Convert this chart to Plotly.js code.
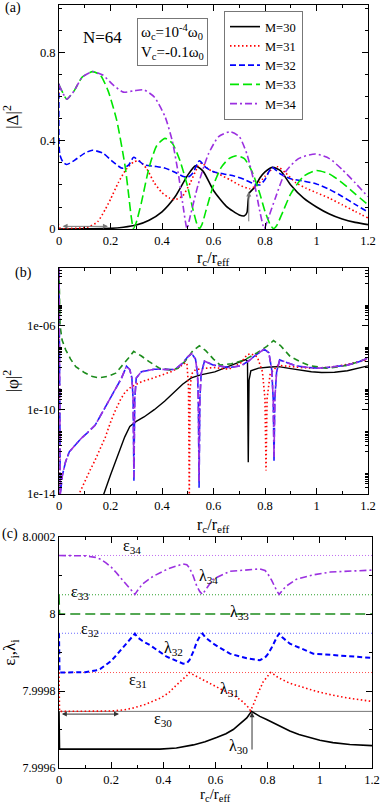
<!DOCTYPE html>
<html>
<head>
<meta charset="utf-8">
<script src="https://cdn.plot.ly/plotly-3.0.1.min.js"></script>
<style>
  html, body { margin: 0; padding: 0; background: #fff; }
  #chart { width: 382px; height: 806px; }
</style>
</head>
<body>
<div id="chart"></div>
<script>
// ---- panel (a): |Delta|^2 against rc/reff ----
const xA30 = [0, 0.1, 0.2, 0.25, 0.3, 0.35, 0.4, 0.45, 0.5, 0.53, 0.56, 0.6, 0.65, 0.7, 0.72, 0.73, 0.735, 0.74, 0.76, 0.78, 0.8, 0.83, 0.86, 0.9, 0.95, 1.0, 1.05, 1.1, 1.15, 1.2]
const yA30 = [0, 0.001, 0.003, 0.008, 0.018, 0.04, 0.078, 0.145, 0.245, 0.287, 0.262, 0.175, 0.103, 0.064, 0.06, 0.075, 0.135, 0.165, 0.19, 0.232, 0.26, 0.28, 0.265, 0.2, 0.14, 0.1, 0.068, 0.045, 0.03, 0.02]

const xA31 = [0, 0.003, 0.05, 0.1, 0.12, 0.15, 0.18, 0.2, 0.23, 0.26, 0.29, 0.31, 0.34, 0.37, 0.4, 0.43, 0.45, 0.48, 0.51, 0.54, 0.555, 0.58, 0.62, 0.665, 0.7, 0.74, 0.77, 0.8, 0.83, 0.85, 0.88, 0.92, 0.96, 1.0, 1.05, 1.1, 1.15, 1.2]
const yA31 = [0.66, 0.005, 0.003, 0.006, 0.012, 0.033, 0.09, 0.135, 0.21, 0.27, 0.305, 0.31, 0.275, 0.21, 0.165, 0.14, 0.133, 0.15, 0.21, 0.285, 0.3, 0.272, 0.25, 0.223, 0.2, 0.183, 0.2, 0.24, 0.275, 0.283, 0.255, 0.21, 0.185, 0.165, 0.14, 0.11, 0.08, 0.05]

const xA32 = [0, 0.003, 0.015, 0.03, 0.06, 0.1, 0.13, 0.17, 0.21, 0.245, 0.27, 0.29, 0.31, 0.33, 0.37, 0.41, 0.45, 0.48, 0.5, 0.52, 0.545, 0.57, 0.6, 0.64, 0.68, 0.72, 0.76, 0.78, 0.8, 0.827, 0.86, 0.9, 0.95, 1.0, 1.05, 1.1, 1.15, 1.2]
const yA32 = [0.66, 0.34, 0.305, 0.293, 0.312, 0.345, 0.358, 0.345, 0.305, 0.276, 0.29, 0.326, 0.31, 0.292, 0.285, 0.277, 0.258, 0.24, 0.235, 0.255, 0.31, 0.28, 0.26, 0.25, 0.241, 0.225, 0.204, 0.2, 0.225, 0.28, 0.25, 0.228, 0.218, 0.205, 0.18, 0.148, 0.112, 0.077]

const xA33 = [0, 0.01, 0.03, 0.06, 0.09, 0.13, 0.16, 0.19, 0.224, 0.257, 0.27, 0.28, 0.289, 0.3, 0.32, 0.35, 0.38, 0.412, 0.44, 0.47, 0.5, 0.52, 0.535, 0.545, 0.555, 0.57, 0.6, 0.63, 0.66, 0.69, 0.72, 0.75, 0.78, 0.8, 0.82, 0.833, 0.845, 0.87, 0.9, 0.95, 1.0, 1.05, 1.1, 1.15, 1.2]
const yA33 = [0.655, 0.63, 0.59, 0.63, 0.69, 0.715, 0.7, 0.63, 0.495, 0.283, 0.16, 0.06, 0.003, 0.03, 0.12, 0.28, 0.38, 0.412, 0.39, 0.31, 0.19, 0.09, 0.025, 0.002, 0.02, 0.08, 0.2, 0.28, 0.32, 0.333, 0.32, 0.26, 0.16, 0.08, 0.02, 0.002, 0.015, 0.08, 0.16, 0.24, 0.266, 0.25, 0.21, 0.16, 0.11]

const xA34 = [0, 0.01, 0.03, 0.06, 0.09, 0.13, 0.17, 0.21, 0.25, 0.29, 0.33, 0.37, 0.412, 0.44, 0.463, 0.48, 0.497, 0.51, 0.54, 0.58, 0.62, 0.665, 0.7, 0.73, 0.76, 0.78, 0.797, 0.81, 0.84, 0.88, 0.93, 0.996, 1.05, 1.1, 1.15, 1.2]
const yA34 = [0.655, 0.63, 0.59, 0.63, 0.69, 0.715, 0.7, 0.655, 0.622, 0.628, 0.632, 0.6, 0.51, 0.4, 0.254, 0.12, 0.002, 0.06, 0.2, 0.34, 0.42, 0.442, 0.42, 0.34, 0.2, 0.08, 0.002, 0.04, 0.14, 0.26, 0.32, 0.341, 0.32, 0.27, 0.21, 0.147]

// ---- panel (b): |phi|^2 (log scale) ----
const xB30 = [0.15, 0.174, 0.2, 0.23, 0.255, 0.275, 0.3, 0.33, 0.37, 0.41, 0.45, 0.48, 0.514, 0.55, 0.605, 0.66, 0.7, 0.725, 0.732, 0.735, 0.738, 0.745, 0.775, 0.82, 0.853, 0.9, 0.93, 0.98, 1.02, 1.07, 1.12, 1.16, 1.2]
const yB30 = [1e-15, 1e-14, 8e-14, 8e-13, 5e-12, 1.6e-11, 2.8e-11, 4.5e-11, 1e-10, 2.5e-10, 6.9e-10, 1.6e-9, 3.2e-9, 4.5e-9, 6.2e-9, 1.1e-8, 1.8e-8, 2.4e-8, 2e-8, 3.2e-13, 2.5e-9, 7e-9, 9.3e-9, 1.05e-8, 1.1e-8, 8.9e-9, 7.8e-9, 6.3e-9, 5.8e-9, 6e-9, 7e-9, 8.9e-9, 1.2e-8]

const xB31 = [0, 0.003, 0.078, 0.1, 0.12, 0.14, 0.16, 0.18, 0.2, 0.22, 0.24, 0.257, 0.28, 0.32, 0.36, 0.4, 0.44, 0.47, 0.49, 0.497, 0.503, 0.506, 0.509, 0.515, 0.53, 0.56, 0.6, 0.66, 0.705, 0.73, 0.745, 0.77, 0.79, 0.8, 0.804, 0.808, 0.82, 0.85, 0.89, 0.94, 0.98, 1.04, 1.1, 1.15, 1.2]
const yB31 = [5e-4, 1e-16, 1e-14, 4e-14, 1.3e-13, 4e-13, 1.3e-12, 5e-12, 2.5e-11, 1e-10, 3.2e-10, 6.9e-10, 1.2e-9, 2.1e-9, 3e-9, 4.3e-9, 6.6e-9, 1.1e-8, 1.66e-8, 1.6e-8, 1e-9, 6e-15, 1e-9, 5e-9, 7.9e-9, 8.9e-9, 1e-8, 8.3e-9, 1.6e-8, 4e-8, 4.5e-8, 3.2e-8, 6.3e-9, 3.2e-10, 1.3e-13, 3.2e-10, 5e-9, 1.26e-8, 1.1e-8, 1e-8, 9.3e-9, 1e-8, 1.26e-8, 1.66e-8, 2.3e-8]

const xB32 = [0, 0.002, 0.005, 0.013, 0.025, 0.04, 0.06, 0.085, 0.11, 0.14, 0.165, 0.19, 0.215, 0.242, 0.262, 0.275, 0.283, 0.288, 0.291, 0.294, 0.3, 0.32, 0.37, 0.41, 0.45, 0.48, 0.5, 0.515, 0.53, 0.538, 0.541, 0.544, 0.547, 0.552, 0.565, 0.6, 0.66, 0.707, 0.74, 0.765, 0.797, 0.815, 0.826, 0.832, 0.835, 0.838, 0.845, 0.857, 0.89, 0.92, 0.97, 1.01, 1.06, 1.12, 1.16, 1.2]
const yB32 = [5e-4, 1e-8, 1e-14, 7.6e-14, 3.2e-13, 1e-12, 2e-12, 4.2e-12, 8e-12, 1.8e-11, 6.3e-11, 2.3e-10, 8e-10, 3e-9, 1.15e-8, 8e-9, 3.2e-9, 3e-10, 4e-14, 3e-10, 3.2e-9, 6.3e-9, 8.3e-9, 8e-9, 8e-9, 1.6e-8, 3.2e-8, 4.6e-8, 2.5e-8, 5e-9, 3e-10, 2e-14, 3e-10, 5e-9, 2e-8, 1.3e-8, 1e-8, 1.2e-8, 2.2e-8, 4e-8, 7.4e-8, 5e-8, 8e-9, 3e-10, 3.2e-13, 3e-10, 6e-9, 2.3e-8, 1.6e-8, 1.2e-8, 1e-8, 9.3e-9, 1.05e-8, 1.3e-8, 1.8e-8, 2.75e-8]

const xB33 = [0, 0.004, 0.012, 0.026, 0.045, 0.065, 0.1, 0.13, 0.155, 0.19, 0.22, 0.25, 0.27, 0.29, 0.32, 0.35, 0.39, 0.43, 0.46, 0.49, 0.52, 0.545, 0.57, 0.6, 0.626, 0.67, 0.72, 0.77, 0.807, 0.833, 0.86, 0.898, 0.94, 0.976, 1.04, 1.08, 1.12, 1.16, 1.2]
const yB33 = [5e-4, 1e-6, 2e-7, 6.9e-8, 2.5e-8, 1.1e-8, 5.6e-9, 3.7e-9, 3.2e-9, 3.8e-9, 5.4e-9, 1.4e-8, 2.8e-8, 5.8e-8, 3.5e-8, 1.9e-8, 9.3e-9, 7.6e-9, 8.9e-9, 2e-8, 6.3e-8, 1.07e-7, 6.3e-8, 2.5e-8, 1.3e-8, 1.5e-8, 2.3e-8, 5e-8, 1e-7, 1.9e-7, 1.1e-7, 3.3e-8, 1.8e-8, 1.2e-8, 9.3e-9, 1.05e-8, 1.3e-8, 1.8e-8, 2.75e-8]

const xB34 = [0, 0.002, 0.005, 0.013, 0.025, 0.04, 0.06, 0.085, 0.11, 0.14, 0.165, 0.19, 0.215, 0.242, 0.262, 0.275, 0.283, 0.288, 0.291, 0.294, 0.3, 0.32, 0.37, 0.41, 0.45, 0.48, 0.5, 0.515, 0.53, 0.538, 0.541, 0.544, 0.547, 0.552, 0.565, 0.6, 0.66, 0.707, 0.74, 0.765, 0.797, 0.815, 0.826, 0.832, 0.835, 0.838, 0.845, 0.857, 0.89, 0.92, 0.97, 1.01, 1.06, 1.12, 1.16, 1.2]
const yB34 = [5e-4, 1e-8, 1e-14, 7.6e-14, 3.2e-13, 1e-12, 2e-12, 4.2e-12, 8e-12, 1.8e-11, 6.3e-11, 2.3e-10, 8e-10, 3e-9, 1.15e-8, 8e-9, 3.2e-9, 3e-10, 6e-14, 3e-10, 3.2e-9, 6.3e-9, 8.3e-9, 8e-9, 8e-9, 1.6e-8, 3.2e-8, 4.6e-8, 2.5e-8, 5e-9, 3e-10, 4e-14, 3e-10, 5e-9, 2e-8, 1.3e-8, 1e-8, 1.2e-8, 2.2e-8, 4e-8, 7.4e-8, 5e-8, 8e-9, 3e-10, 5e-13, 3e-10, 6e-9, 2.3e-8, 1.6e-8, 1.2e-8, 1e-8, 9.3e-9, 1.05e-8, 1.3e-8, 1.8e-8, 2.75e-8]

// ---- panel (c): eigenvalues lambda_M and levels epsilon_M ----
const epsNames = ['ε<sub>30</sub>', 'ε<sub>31</sub>', 'ε<sub>32</sub>', 'ε<sub>33</sub>', 'ε<sub>34</sub>']
const epsValues = [7.999747, 7.999848, 7.99995, 8.00005, 8.000152]

const xC30 = [0, 0.002, 0.387, 0.45, 0.515, 0.56, 0.604, 0.64, 0.668, 0.7, 0.72, 0.738, 0.75, 0.77, 0.796, 0.82, 0.85, 0.885, 0.92, 0.96, 1.0, 1.05, 1.115, 1.2]
const yC30 = [7.999747, 7.999649, 7.999649, 7.999652, 7.99966, 7.999668, 7.999679, 7.999689, 7.9997, 7.999717, 7.99973, 7.999747, 7.999742, 7.999734, 7.999726, 7.999718, 7.999707, 7.999696, 7.999687, 7.999679, 7.999672, 7.999666, 7.999661, 7.999658]

const xC31 = [0, 0.002, 0.2, 0.25, 0.285, 0.33, 0.387, 0.42, 0.451, 0.475, 0.49, 0.499, 0.51, 0.54, 0.579, 0.62, 0.668, 0.705, 0.725, 0.734, 0.745, 0.76, 0.783, 0.8, 0.811, 0.82, 0.84, 0.885, 0.94, 0.987, 1.05, 1.115, 1.2]
const yC31 = [7.999848, 7.999747, 7.999748, 7.999751, 7.999756, 7.999765, 7.999781, 7.999795, 7.999816, 7.99983, 7.99984, 7.999848, 7.999844, 7.999835, 7.99982, 7.999805, 7.99979, 7.999772, 7.999758, 7.999749, 7.999764, 7.99979, 7.999824, 7.99984, 7.999848, 7.999845, 7.999835, 7.99982, 7.999808, 7.999799, 7.999789, 7.999781, 7.999773]

const xC32 = [0, 0.002, 0.1, 0.14, 0.16, 0.18, 0.2, 0.22, 0.24, 0.26, 0.28, 0.291, 0.3, 0.32, 0.349, 0.413, 0.476, 0.49, 0.5, 0.515, 0.528, 0.54, 0.55, 0.56, 0.591, 0.655, 0.72, 0.77, 0.79, 0.8, 0.815, 0.825, 0.835, 0.844, 0.855, 0.885, 0.975, 1.1, 1.2]
const yC32 = [7.99995, 7.999848, 7.999849, 7.999853, 7.999858, 7.999867, 7.999878, 7.999893, 7.999908, 7.999925, 7.99994, 7.999949, 7.99994, 7.99993, 7.999919, 7.999889, 7.999871, 7.999872, 7.99988, 7.999902, 7.999927, 7.999942, 7.999949, 7.99994, 7.999923, 7.999897, 7.999885, 7.99988, 7.999887, 7.999895, 7.999912, 7.999928, 7.99994, 7.999949, 7.99994, 7.999923, 7.999897, 7.999891, 7.999886]

const xC33 = [0, 0.002, 1.2]
const yC33 = [8.00005, 8.0, 8.0]

const xC34 = [0, 0.1, 0.14, 0.16, 0.18, 0.2, 0.22, 0.24, 0.26, 0.28, 0.291, 0.3, 0.32, 0.361, 0.42, 0.476, 0.49, 0.5, 0.515, 0.528, 0.54, 0.55, 0.56, 0.59, 0.655, 0.72, 0.77, 0.79, 0.8, 0.815, 0.825, 0.835, 0.844, 0.855, 0.87, 0.91, 0.97, 1.04, 1.12, 1.2]
const yC34 = [8.000152, 8.000151, 8.000147, 8.000142, 8.000133, 8.000122, 8.000107, 8.000092, 8.000075, 8.00006, 8.000051, 8.00006, 8.000078, 8.000098, 8.000118, 8.00013, 8.000128, 8.00012, 8.000098, 8.000073, 8.000058, 8.000051, 8.00006, 8.00009, 8.000111, 8.000115, 8.000117, 8.000113, 8.000105, 8.000088, 8.000072, 8.00006, 8.000051, 8.00006, 8.000072, 8.00009, 8.000101, 8.000109, 8.000112, 8.000114]

const legendNames = ['M=30', 'M=31', 'M=32', 'M=33', 'M=34']
const lambdaNames = ['λ<sub>30</sub>', 'λ<sub>31</sub>', 'λ<sub>32</sub>', 'λ<sub>33</sub>', 'λ<sub>34</sub>']

// ---- look ----
const W = 382, H = 806
const serif = 'Liberation Serif, DejaVu Serif, serif'
const px = function (x) { return x / W }
const py = function (y) { return 1 - y / H }

const styleA = [
    { color: '#000000', dash: 'solid', width: 1.6 },
    { color: '#ff0000', dash: '1.5px,2.5px', width: 1.6 },
    { color: '#0000ff', dash: '6px,3px', width: 1.6 },
    { color: '#00e600', dash: '9px,4px', width: 1.6 },
    { color: '#9b30e0', dash: '7px,3px,2px,3px', width: 1.6 }
]
const styleB = [
    { color: '#000000', dash: 'solid', width: 1.4 },
    { color: '#ff0000', dash: '1.5px,2.5px', width: 1.6 },
    { color: '#2020ff', dash: '9px,3px', width: 1.6 },
    { color: '#1c8c1c', dash: '6px,4px', width: 1.6 },
    { color: '#9b30e0', dash: '7px,3px,2px,3px', width: 1.6 }
]
const styleC = [
    { color: '#000000', dash: 'solid', width: 1.6 },
    { color: '#ff0000', dash: '1.5px,2.5px', width: 1.6 },
    { color: '#0000ff', dash: '5px,3px', width: 2 },
    { color: '#1c8c1c', dash: '10px,5px', width: 1.6 },
    { color: '#9b30e0', dash: '7px,3px,2px,3px', width: 1.6 }
]
const epsStyle = [
    { color: '#555555', dash: 'solid', width: 0.8 },
    { color: '#ff5050', dash: '1px,2px', width: 1 },
    { color: '#6a6aff', dash: '1px,2px', width: 1 },
    { color: '#2ca02c', dash: '1px,2px', width: 1 },
    { color: '#c070f0', dash: '1px,2px', width: 1 }
]

const seriesA = [[xA30, yA30], [xA31, yA31], [xA32, yA32], [xA33, yA33], [xA34, yA34]]
const seriesB = [[xB30, yB30], [xB31, yB31], [xB32, yB32], [xB33, yB33], [xB34, yB34]]
const seriesC = [[xC30, yC30], [xC31, yC31], [xC32, yC32], [xC33, yC33], [xC34, yC34]]

const data = []
seriesA.forEach(function (s, i) {
    data.push({
        x: s[0], y: s[1], type: 'scatter', mode: 'lines', name: legendNames[i],
        xaxis: 'x', yaxis: 'y', line: Object.assign({ shape: 'spline', smoothing: 0.6 }, styleA[i]),
        hoverinfo: 'skip'
    })
})
seriesB.forEach(function (s, i) {
    data.push({
        x: s[0], y: s[1], type: 'scatter', mode: 'lines', name: legendNames[i], showlegend: false,
        xaxis: 'x2', yaxis: 'y2', line: styleB[i], hoverinfo: 'skip'
    })
})
epsValues.forEach(function (v, i) {
    data.push({
        x: [0, 1.2], y: [v, v], type: 'scatter', mode: 'lines', showlegend: false,
        xaxis: 'x3', yaxis: 'y3', line: epsStyle[i], hoverinfo: 'skip'
    })
})
seriesC.forEach(function (s, i) {
    data.push({
        x: s[0], y: s[1], type: 'scatter', mode: 'lines', name: lambdaNames[i], showlegend: false,
        xaxis: 'x3', yaxis: 'y3', line: styleC[i], hoverinfo: 'skip'
    })
})

function axis(extra) {
    return Object.assign({
        showline: true, linecolor: '#000', linewidth: 1, mirror: 'ticks',
        ticks: 'inside', ticklen: 6, tickwidth: 1, tickcolor: '#000',
        showgrid: false, zeroline: false, fixedrange: true,
        tickfont: { family: serif, size: 12.5, color: '#000' }
    }, extra)
}
function xAxis(domain, anchor) {
    return axis({
        domain: domain, anchor: anchor, range: [0, 1.2], tick0: 0, dtick: 0.2,
        minor: { ticks: 'inside', ticklen: 3, tickcolor: '#000', dtick: 0.1, showgrid: false }
    })
}

// labelled decades, the others only get small ticks
const logMajor = [1e-14, 1e-10, 1e-6]
const logText = ['1e-14', '1e-10', '1e-06']
const logMinor = []
;[-14, -12, -10, -8, -6, -4].forEach(function (e) {
    if (e === -12 || e === -8 || e === -4) logMinor.push(Math.pow(10, e))
    for (let k = 2; k <= 9; k++) logMinor.push(k * Math.pow(10, e))
})

const layout = {
    width: W, height: H,
    margin: { l: 0, r: 0, t: 0, b: 0 },
    paper_bgcolor: '#fff', plot_bgcolor: '#fff',
    font: { family: serif, color: '#000' },
    showlegend: true,
    legend: {
        x: px(224), y: py(11), xanchor: 'left', yanchor: 'top',
        bgcolor: '#fff', bordercolor: '#777', borderwidth: 1,
        font: { family: serif, size: 12.5, color: '#000' }, itemwidth: 30, tracegroupgap: 0
    },
    xaxis: xAxis([px(59), px(368)], 'y'),
    yaxis: axis({
        domain: [py(229), py(5)], anchor: 'x', range: [0, 1.018], tick0: 0, dtick: 0.4,
        minor: { ticks: 'inside', ticklen: 3, tickcolor: '#000', dtick: 0.1, showgrid: false },
        title: { text: '|Δ|<sup>2</sup>', font: { family: serif, size: 17, color: '#000' } }
    }),
    xaxis2: xAxis([px(59), px(368)], 'y2'),
    yaxis2: axis({
        domain: [py(494), py(268)], anchor: 'x2', type: 'log', range: [-14, -3.28],
        tickmode: 'array', tickvals: logMajor, ticktext: logText,
        minor: { ticks: 'inside', ticklen: 3, tickcolor: '#000', tickmode: 'array', tickvals: logMinor, showgrid: false },
        title: { text: '|φ|<sup>2</sup>', font: { family: serif, size: 17, color: '#000' } }
    }),
    xaxis3: xAxis([px(59), px(372)], 'y3'),
    yaxis3: axis({
        domain: [py(768), py(537)], anchor: 'x3', range: [7.9996, 8.0002],
        tickmode: 'array', tickvals: [7.9996, 7.9998, 8, 8.0002], ticktext: ['7.9996', '7.9998', '8', '8.0002'],
        tickfont: { family: serif, size: 12, color: '#000' },
        minor: { ticks: 'inside', ticklen: 3, tickcolor: '#000', tickmode: 'linear', tick0: 7.9996, dtick: 0.0001, showgrid: false },
        title: { text: 'ε<sub>i</sub>,λ<sub>i</sub>', font: { family: serif, size: 17, color: '#000' } }
    }),
    annotations: []
}

function paperText(x, y, text, size) {
    return { xref: 'paper', yref: 'paper', x: px(x), y: py(y), text: text, showarrow: false,
        xanchor: 'center', yanchor: 'middle', font: { family: serif, size: size, color: '#000' } }
}
layout.annotations.push(paperText(13, 8, '(a)', 14))
layout.annotations.push(paperText(23, 273, '(b)', 14))
layout.annotations.push(paperText(10, 534, '(c)', 14))
layout.annotations.push(paperText(103, 37, 'N=64', 17))
layout.annotations.push(Object.assign(paperText(172.5, 42,
    'ω<sub>c</sub>=10<sup>-4</sup>ω<sub>0</sub><br>V<sub>c</sub>=-0.1ω<sub>0</sub>', 15),
    { align: 'left', bgcolor: '#fff', bordercolor: '#777', borderwidth: 1, borderpad: 3 }))

// x-axis titles, placed under each panel
const xTitle = 'r<sub>c</sub>/r<sub>eff</sub>'
layout.annotations.push(paperText(213.5, 258, xTitle, 16))
layout.annotations.push(paperText(213.5, 525, xTitle, 16))
layout.annotations.push(paperText(215.5, 795, xTitle, 15))

// arrows
function arrow(xr, yr, x, y, ax, ay, both, color) {
    return { xref: xr, yref: yr, axref: xr, ayref: yr, x: x, y: y, ax: ax, ay: ay, text: '',
        showarrow: true, arrowhead: 2, arrowsize: 1, arrowwidth: 1, arrowcolor: color,
        arrowside: both ? 'end+start' : 'end', standoff: 0, startstandoff: 0 }
}
layout.annotations.push(arrow('x', 'y', 0.19, 0.012, 0.008, 0.012, true, '#777'))
layout.annotations.push(arrow('x', 'y', 0.737, 0.17, 0.737, 0.028, false, '#777'))
layout.annotations.push(arrow('x3', 'y3', 0.23, 7.99974, 0.005, 7.99974, true, '#333'))
layout.annotations.push(arrow('x3', 'y3', 0.74, 7.999745, 0.74, 7.999644, false, '#333'))

// epsilon / lambda labels in (c)
const epsLabelX = [0.4, 0.304, 0.119, 0.08, 0.279]
const epsLabelY = [7.999726, 7.999826, 7.999959, 8.000056, 8.000176]
const lamLabelX = [0.687, 0.655, 0.438, 0.693, 0.572]
const lamLabelY = [7.999657, 7.999803, 7.99991, 8.000004, 8.000098]
function dataText(x, y, text) {
    return { xref: 'x3', yref: 'y3', x: x, y: y, text: text, showarrow: false,
        xanchor: 'center', yanchor: 'middle', font: { family: serif, size: 16, color: '#000' } }
}
epsNames.forEach(function (t, i) { layout.annotations.push(dataText(epsLabelX[i], epsLabelY[i], t)) })
lambdaNames.forEach(function (t, i) { layout.annotations.push(dataText(lamLabelX[i], lamLabelY[i], t)) })

Plotly.newPlot('chart', data, layout, { displayModeBar: false, staticPlot: true })
</script>
</body>
</html>
